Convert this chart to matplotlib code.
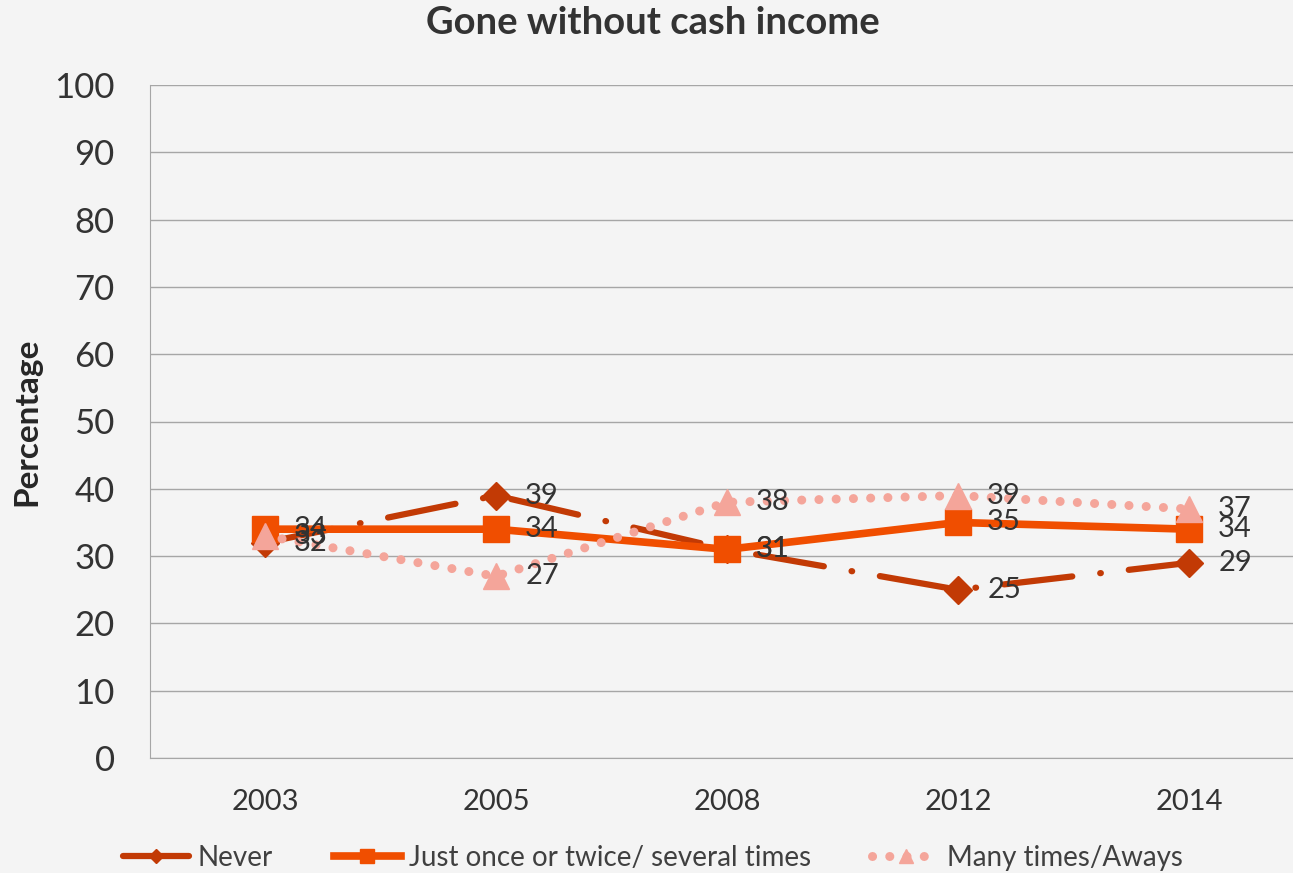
import numpy as np
import matplotlib.pyplot as plt

years = ['2003', '2005', '2008', '2012', '2014']
never = [32, 39, 31, 25, 29]
once = [34, 34, 31, 35, 34]
many = [33, 27, 38, 39, 37]

c_never = '#c23a05'
c_once = '#f04e00'
c_many = '#f4a59a'

plt.rcParams['font.family'] = ['Lato', 'DejaVu Sans']

fig = plt.figure(figsize=(12.93, 8.73), dpi=100)
fig.patch.set_facecolor('#f4f4f4')
ax = fig.add_axes([149.5 / 1293, 1 - 758 / 873, 1155 / 1293, 673 / 873])
ax.set_facecolor('none')

x = np.arange(len(years))

ax.plot(x, never, color=c_never, lw=4.5, ls=(0, (11, 4.5, 0.1, 4.5)),
        dash_capstyle='round', marker='D', ms=14, label='Never', zorder=3)
ax.plot(x, once, color=c_once, lw=5.5, marker='s', ms=19,
        label='Just once or twice/ several times', zorder=4)
ax.plot(x, many, color=c_many, lw=6.5, ls=(0, (0.01, 1.9)), dash_capstyle='round',
        marker='^', ms=19, label='Many times/Aways', zorder=5)

for series in (never, once, many):
    for xi, v in zip(x, series):
        ax.annotate(str(v), (xi, v), xytext=(21, 0), textcoords='offset points',
                    va='center', ha='left', fontsize=21, color='#333333', zorder=6)

ax.set_xlim(-0.5, 4.5)
ax.set_ylim(0, 100)
ax.set_yticks(range(0, 101, 10))
ax.set_xticks(x)
ax.set_xticklabels(years)
ax.tick_params(axis='y', labelsize=25, length=0, pad=25, labelcolor='#333333')
ax.tick_params(axis='x', labelsize=21, length=0, pad=22, labelcolor='#333333')
ax.grid(axis='y', color='#a6a6a6', lw=1)
ax.set_axisbelow(True)
for s in ('top', 'right'):
    ax.spines[s].set_visible(False)
ax.spines['left'].set_color('#a6a6a6')
ax.spines['bottom'].set_color('#a6a6a6')

ax.set_ylabel('Percentage', fontsize=24, fontweight='bold', color='#262626')
ax.yaxis.set_label_coords(-0.094, 0.5)
fig.text(0.505, 1 - 23 / 873, 'Gone without cash income', ha='center', va='center',
         fontsize=27.5, fontweight='bold', color='#333333')

fig.legend(loc='center', bbox_to_anchor=(0.505, 1 - 858 / 873), ncol=3, frameon=False,
           fontsize=20, handlelength=2.4, handletextpad=0.3, columnspacing=2.2,
           markerscale=0.5, labelcolor='#404040')

fig.savefig('out.png', dpi=100, facecolor=fig.get_facecolor())
